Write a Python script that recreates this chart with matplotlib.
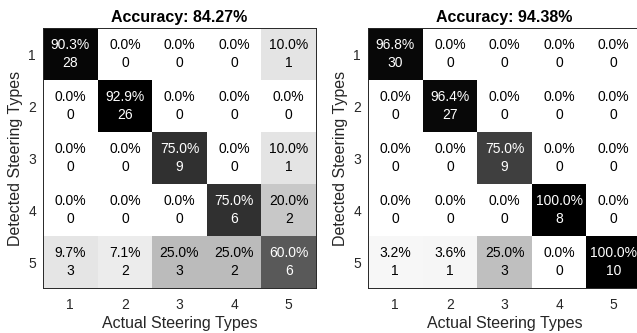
import numpy as np
import matplotlib
matplotlib.use("Agg")
import matplotlib.pyplot as plt

plt.rcParams['font.family'] = ['Liberation Sans', 'DejaVu Sans']

classes = ['1', '2', '3', '4', '5']
# rows = detected, columns = actual
counts_left = np.array([
    [28, 0, 0, 0, 1],
    [0, 26, 0, 0, 0],
    [0, 0, 9, 0, 1],
    [0, 0, 0, 6, 2],
    [3, 2, 3, 2, 6],
])
counts_right = np.array([
    [30, 0, 0, 0, 0],
    [0, 27, 0, 0, 0],
    [0, 0, 9, 0, 0],
    [0, 0, 0, 8, 0],
    [1, 1, 3, 0, 10],
])
titles = ['Accuracy: 84.27%', 'Accuracy: 94.38%']
xlabel = 'Actual Steering Types'
ylabel = 'Detected Steering Types'

W, H = 637, 333
fig = plt.figure(figsize=(W / 100, H / 100), dpi=100)

positions = [
    [43 / W, (H - 288) / H, 273 / W, 260 / H],
    [368 / W, (H - 288) / H, 273 / W, 260 / H],
]
ink = '#262626'

for counts, title, pos in zip([counts_left, counts_right], titles, positions):
    ax = fig.add_axes(pos)
    pct = 100.0 * counts / counts.sum(axis=0, keepdims=True)
    vmax = pct.max()
    ax.imshow(pct, cmap='gray_r', vmin=0, vmax=vmax, aspect='auto',
              interpolation='nearest')
    n = len(classes)
    for i in range(n):
        for j in range(n):
            g = 1 - pct[i, j] / vmax
            col = 'white' if g < 0.5 else 'black'
            ax.text(j, i, f'{pct[i, j]:.1f}%\n{counts[i, j]}', ha='center',
                    va='center', fontsize=10, color=col, linespacing=1.3)
    ax.set_xticks(range(n))
    ax.set_yticks(range(n))
    ax.set_xticklabels(classes)
    ax.set_yticklabels(classes)
    ax.tick_params(length=0, labelsize=10, colors=ink)
    ax.tick_params(axis='x', pad=7)
    ax.tick_params(axis='y', pad=5)
    ax.set_xlabel(xlabel, fontsize=11.5, color=ink, labelpad=3)
    ax.set_ylabel(ylabel, fontsize=11.5, color=ink, labelpad=4)
    ax.set_title(title, fontsize=11.5, fontweight='bold', pad=4)
    for s in ax.spines.values():
        s.set_color(ink)
        s.set_linewidth(0.7)

fig.savefig('out.png', dpi=100)
